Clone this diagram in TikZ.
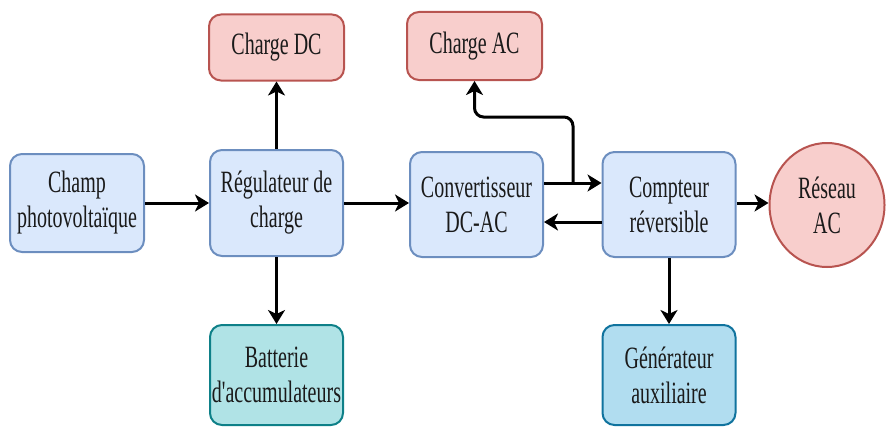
\documentclass[tikz,border=0pt]{standalone}
\usepackage{fontspec}
\setmainfont{Liberation Serif}[FakeStretch=0.645, Ligatures=TeXOff]
\usetikzlibrary{arrows.meta,shapes.geometric}

\definecolor{blueFill}{HTML}{DAE8FC}
\definecolor{blueLine}{HTML}{6C8EBF}
\definecolor{redFill}{HTML}{F8CECC}
\definecolor{redLine}{HTML}{B85450}
\definecolor{tealFill}{HTML}{B0E3E6}
\definecolor{tealLine}{HTML}{0E8088}
\definecolor{skyFill}{HTML}{B1DDF0}
\definecolor{skyLine}{HTML}{10739E}
\definecolor{ink}{HTML}{1A1A1A}

\tikzset{
  label font/.style={font=\fontsize{31}{35}\selectfont, text=ink},
  block/.style={draw, line width=2pt, rounded corners=12pt, align=center,
    inner sep=0pt, minimum width=133pt, minimum height=104pt, label font},
  bluebox/.style={block, fill=blueFill, draw=blueLine},
  redbox/.style={block, fill=redFill, draw=redLine, minimum width=135pt, minimum height=66pt},
  tealbox/.style={block, fill=tealFill, draw=tealLine, minimum height=100pt},
  skybox/.style={block, fill=skyFill, draw=skyLine, minimum height=100pt},
  ovalnode/.style={ellipse, draw=redLine, fill=redFill, line width=2pt, align=center,
    inner sep=0pt, minimum width=115pt, minimum height=124pt, label font},
  flow/.style={draw=black, line width=3pt, -{Stealth[length=14pt,width=17pt,inset=4pt]}}
}

\begin{document}
\begin{tikzpicture}[x=1pt,y=-1pt]
\useasboundingbox (0,0) rectangle (893,428);

% main chain
\node[bluebox, minimum width=134pt, minimum height=98pt] (champ) at (77,203) {Champ\\photovoltaïque};
\node[bluebox, minimum height=106pt] (reg) at (276.5,203) {Régulateur de\\charge};
\node[bluebox, minimum height=105pt] (conv) at (476.5,204.5) {Convertisseur\\DC-AC};
\node[bluebox, minimum height=105pt] (comp) at (669,204.5) {Compteur\\réversible};
\node[ovalnode] (reseau) at (827,205) {Réseau\\AC};

% loads
\node[redbox] (chdc) at (276.5,47.5) {Charge DC};
\node[redbox, minimum height=68pt] (chac) at (474.5,46) {Charge AC};

% storage and backup
\node[tealbox] (batt) at (276.5,375) {Batterie\\d'accumulateurs};
\node[skybox] (gen) at (669,375) {Générateur\\auxiliaire};

% power flows
\draw[flow] (champ.east |- 0,203) -- (reg.west |- 0,203);
\draw[flow] (reg.east |- 0,203) -- (conv.west |- 0,203);
\draw[flow] (conv.east |- 0,183) -- (comp.west |- 0,183);
\draw[flow] (comp.west |- 0,222) -- (conv.east |- 0,222);
\draw[flow] (comp.east |- 0,203) -- (reseau.west |- 0,203);
\draw[flow] (reg.north) -- (chdc.south);
\draw[flow] (reg.south) -- (batt.north);
\draw[flow] (comp.south) -- (gen.north);

% tap towards the AC load
\coordinate (tap) at (573,183);
\draw[flow, rounded corners=9pt] (tap) -- (573,117) -- (chac.south |- 0,117) -- (chac.south);
\end{tikzpicture}
\end{document}
